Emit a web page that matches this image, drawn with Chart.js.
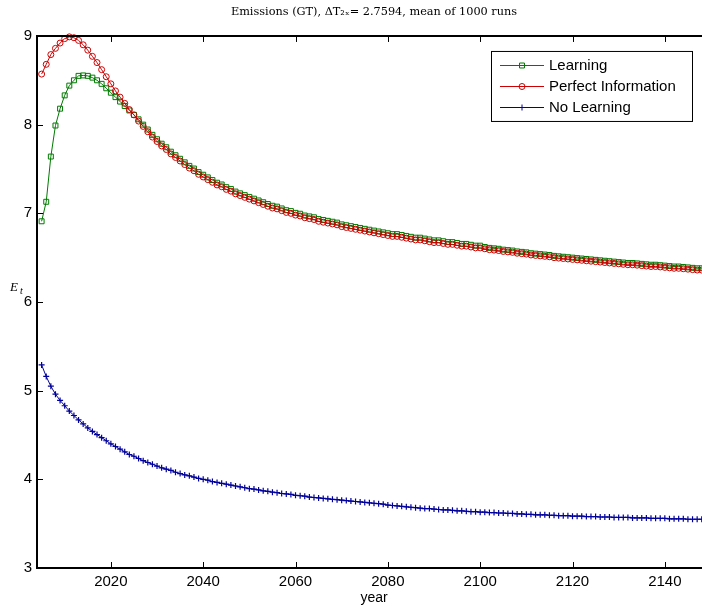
<!DOCTYPE html>
<html>
<head>
<meta charset="utf-8">
<script src="https://cdn.jsdelivr.net/npm/chart.js@4.4.0/dist/chart.umd.min.js"></script>
<style>
html, body { margin: 0; padding: 0; background: #fff; overflow: hidden; }
#emissions_wrap { position: relative; width: 740px; height: 607px; }
</style>
</head>
<body>
<div id="emissions_wrap"><canvas id="emissions_chart" width="740" height="607"></canvas></div>
<script>
// years of the runs (one point per year)
const years = [
    2005, 2006, 2007, 2008, 2009, 2010, 2011, 2012, 2013, 2014, 2015, 2016, 2017, 2018, 2019, 2020,
    2021, 2022, 2023, 2024, 2025, 2026, 2027, 2028, 2029, 2030, 2031, 2032, 2033, 2034, 2035, 2036,
    2037, 2038, 2039, 2040, 2041, 2042, 2043, 2044, 2045, 2046, 2047, 2048, 2049, 2050, 2051, 2052,
    2053, 2054, 2055, 2056, 2057, 2058, 2059, 2060, 2061, 2062, 2063, 2064, 2065, 2066, 2067, 2068,
    2069, 2070, 2071, 2072, 2073, 2074, 2075, 2076, 2077, 2078, 2079, 2080, 2081, 2082, 2083, 2084,
    2085, 2086, 2087, 2088, 2089, 2090, 2091, 2092, 2093, 2094, 2095, 2096, 2097, 2098, 2099, 2100,
    2101, 2102, 2103, 2104, 2105, 2106, 2107, 2108, 2109, 2110, 2111, 2112, 2113, 2114, 2115, 2116,
    2117, 2118, 2119, 2120, 2121, 2122, 2123, 2124, 2125, 2126, 2127, 2128, 2129, 2130, 2131, 2132,
    2133, 2134, 2135, 2136, 2137, 2138, 2139, 2140, 2141, 2142, 2143, 2144, 2145, 2146, 2147, 2148,
    2149, 2150
];

const learning = [
    6.91, 7.13, 7.64, 7.99, 8.18, 8.33, 8.44, 8.50, 8.55, 8.555, 8.55, 8.53, 8.50, 8.46, 8.41, 8.36,
    8.31, 8.26, 8.21, 8.16, 8.11, 8.06, 8.00, 7.945, 7.885, 7.835, 7.785, 7.745, 7.695, 7.655, 7.615, 7.575,
    7.535, 7.505, 7.465, 7.435, 7.405, 7.375, 7.345, 7.325, 7.295, 7.275, 7.245, 7.225, 7.205, 7.185, 7.165, 7.145,
    7.125, 7.105, 7.085, 7.075, 7.055, 7.035, 7.025, 7.005, 6.995, 6.975, 6.965, 6.955, 6.935, 6.925, 6.915, 6.905,
    6.895, 6.875, 6.865, 6.855, 6.845, 6.835, 6.825, 6.815, 6.805, 6.795, 6.785, 6.775, 6.765, 6.765, 6.755, 6.745,
    6.735, 6.725, 6.725, 6.715, 6.705, 6.695, 6.695, 6.685, 6.675, 6.675, 6.665, 6.655, 6.655, 6.645, 6.635, 6.635,
    6.62, 6.61, 6.605, 6.60, 6.59, 6.585, 6.58, 6.57, 6.565, 6.56, 6.55, 6.545, 6.54, 6.535, 6.53, 6.52,
    6.515, 6.51, 6.505, 6.50, 6.495, 6.49, 6.485, 6.48, 6.475, 6.47, 6.465, 6.46, 6.455, 6.45, 6.445, 6.44,
    6.44, 6.435, 6.43, 6.425, 6.42, 6.42, 6.415, 6.41, 6.405, 6.40, 6.40, 6.395, 6.39, 6.385, 6.38, 6.38,
    6.375, 6.37
];

const perfectInfo = [
    8.57, 8.68, 8.79, 8.86, 8.92, 8.97, 8.99, 8.98, 8.95, 8.90, 8.84, 8.77, 8.70, 8.62, 8.54, 8.46,
    8.38, 8.31, 8.24, 8.17, 8.11, 8.04, 7.98, 7.92, 7.86, 7.81, 7.76, 7.72, 7.67, 7.63, 7.59, 7.55,
    7.51, 7.48, 7.44, 7.41, 7.38, 7.35, 7.32, 7.30, 7.27, 7.25, 7.22, 7.20, 7.18, 7.16, 7.14, 7.12,
    7.10, 7.08, 7.06, 7.05, 7.03, 7.01, 7.00, 6.98, 6.97, 6.95, 6.94, 6.93, 6.91, 6.90, 6.89, 6.88,
    6.87, 6.85, 6.84, 6.83, 6.82, 6.81, 6.80, 6.79, 6.78, 6.77, 6.76, 6.75, 6.74, 6.74, 6.73, 6.72,
    6.71, 6.70, 6.70, 6.69, 6.68, 6.67, 6.67, 6.66, 6.65, 6.65, 6.64, 6.63, 6.63, 6.62, 6.61, 6.61,
    6.60, 6.59, 6.585, 6.58, 6.57, 6.565, 6.56, 6.55, 6.545, 6.54, 6.53, 6.525, 6.52, 6.515, 6.51, 6.50,
    6.495, 6.49, 6.485, 6.48, 6.475, 6.47, 6.465, 6.46, 6.455, 6.45, 6.445, 6.44, 6.435, 6.43, 6.425, 6.42,
    6.42, 6.415, 6.41, 6.405, 6.40, 6.40, 6.395, 6.39, 6.385, 6.38, 6.38, 6.375, 6.37, 6.365, 6.36, 6.36,
    6.355, 6.35
];

const noLearning = [
    5.29, 5.16, 5.05, 4.96, 4.89, 4.83, 4.77, 4.72, 4.67, 4.625, 4.58, 4.54, 4.505, 4.47, 4.435, 4.40,
    4.37, 4.34, 4.31, 4.28, 4.26, 4.235, 4.21, 4.19, 4.17, 4.15, 4.13, 4.115, 4.10, 4.08, 4.065, 4.05,
    4.04, 4.025, 4.01, 4.00, 3.99, 3.975, 3.965, 3.955, 3.945, 3.935, 3.925, 3.915, 3.905, 3.895, 3.89, 3.88,
    3.87, 3.865, 3.855, 3.85, 3.84, 3.835, 3.83, 3.82, 3.815, 3.81, 3.80, 3.795, 3.79, 3.785, 3.78, 3.775,
    3.77, 3.765, 3.76, 3.755, 3.75, 3.745, 3.74, 3.735, 3.73, 3.725, 3.72, 3.71, 3.705, 3.70, 3.695, 3.69,
    3.685, 3.68, 3.675, 3.67, 3.67, 3.665, 3.66, 3.655, 3.655, 3.65, 3.645, 3.645, 3.64, 3.635, 3.635, 3.63,
    3.63, 3.625, 3.625, 3.62, 3.62, 3.615, 3.615, 3.61, 3.61, 3.605, 3.605, 3.60, 3.60, 3.60, 3.595, 3.595,
    3.59, 3.59, 3.59, 3.585, 3.585, 3.585, 3.58, 3.58, 3.58, 3.575, 3.575, 3.575, 3.57, 3.57, 3.57, 3.57,
    3.565, 3.565, 3.565, 3.565, 3.56, 3.56, 3.56, 3.56, 3.555, 3.555, 3.555, 3.555, 3.55, 3.55, 3.55, 3.55,
    3.545, 3.545
];

const xTicks = [2020, 2040, 2060, 2080, 2100, 2120, 2140];
const yTicks = [3, 4, 5, 6, 7, 8, 9];
const seriesNames = ['Learning', 'Perfect Information', 'No Learning'];

Chart.defaults.font.family = "'Liberation Sans', Arial, sans-serif";
Chart.defaults.color = '#000';

function toPoints(values) {
    return years.map((yr, i) => ({ x: yr, y: values[i] }));
}

// inward tick marks + top frame line, like matlab's "box on"
const frameTicks = {
    id: 'frameTicks',
    afterDraw(chart) {
        const { ctx, chartArea: a, scales: { x, y } } = chart;
        ctx.save();
        ctx.strokeStyle = '#000';
        ctx.lineWidth = 2;
        ctx.beginPath();
        ctx.moveTo(a.left - 1, a.top);
        ctx.lineTo(a.right, a.top);
        ctx.moveTo(a.right, a.top);
        ctx.lineTo(a.right, a.bottom);
        ctx.stroke();
        ctx.lineWidth = 1;
        ctx.beginPath();
        x.ticks.forEach(t => {
            const px = Math.round(x.getPixelForValue(t.value)) + 0.5;
            ctx.moveTo(px, a.bottom);
            ctx.lineTo(px, a.bottom - 6);
            ctx.moveTo(px, a.top);
            ctx.lineTo(px, a.top + 6);
        });
        y.ticks.forEach(t => {
            const py = Math.round(y.getPixelForValue(t.value)) + 0.5;
            ctx.moveTo(a.left, py);
            ctx.lineTo(a.left + 6, py);
            ctx.moveTo(a.right, py);
            ctx.lineTo(a.right - 6, py);
        });
        ctx.stroke();

        // y label E_t (not rotated)
        ctx.fillStyle = '#000';
        ctx.textBaseline = 'alphabetic';
        ctx.font = "italic 13px 'Liberation Serif', serif";
        ctx.fillText('E', 10, 291);
        ctx.font = "italic 10px 'Liberation Serif', serif";
        ctx.fillText('t', 20, 294);
        ctx.restore();
    }
};

// boxed legend in the top right corner of the axes
const boxLegend = {
    id: 'boxLegend',
    afterDraw(chart) {
        const { ctx, chartArea: a } = chart;
        const w = 201, h = 70;
        const left = a.right - 19 - w, top = a.top + 15;
        ctx.save();
        ctx.fillStyle = '#fff';
        ctx.fillRect(left, top, w, h);
        ctx.strokeStyle = '#000';
        ctx.lineWidth = 1;
        ctx.strokeRect(left + 0.5, top + 0.5, w, h);
        const rows = [0, 1, 2];
        rows.forEach(r => {
            const ds = chart.data.datasets[r];
            const cy = Math.round(top + 14 + r * 21) + 0.5;
            ctx.strokeStyle = ds.borderColor;
            ctx.lineWidth = 1;
            ctx.beginPath();
            ctx.moveTo(left + 9, cy);
            ctx.lineTo(left + 53, cy);
            ctx.stroke();
            ctx.fillStyle = 'rgba(0,0,0,0)';
            Chart.helpers.drawPoint(ctx, {
                pointStyle: ds.pointStyle,
                radius: ds.pointRadius,
                borderWidth: 1,
                rotation: 0
            }, left + 31, cy);
            ctx.fillStyle = '#000';
            ctx.font = "15px 'Liberation Sans', Arial, sans-serif";
            ctx.textBaseline = 'middle';
            ctx.fillText(seriesNames[r], left + 58, cy);
        });
        ctx.restore();
    }
};

let emissions_chart = new Chart(document.getElementById('emissions_chart'), {
    type: 'line',
    data: {
        datasets: [
            {
                label: seriesNames[0],
                data: toPoints(learning),
                borderColor: '#007a00',
                borderWidth: 1,
                pointStyle: 'rect',
                pointRadius: 3.5,
                pointBorderWidth: 1,
                pointBackgroundColor: 'rgba(0,0,0,0)',
                order: 3,
                clip: false
            },
            {
                label: seriesNames[1],
                data: toPoints(perfectInfo),
                borderColor: '#cc0000',
                borderWidth: 1,
                pointStyle: 'circle',
                pointRadius: 3,
                pointBorderWidth: 1,
                pointBackgroundColor: 'rgba(0,0,0,0)',
                order: 2,
                clip: false
            },
            {
                label: seriesNames[2],
                data: toPoints(noLearning),
                borderColor: '#00009a',
                borderWidth: 1,
                pointStyle: 'cross',
                pointRadius: 3,
                pointBorderWidth: 1.2,
                pointBackgroundColor: 'rgba(0,0,0,0)',
                order: 1,
                clip: false
            }
        ]
    },
    options: {
        responsive: false,
        devicePixelRatio: 1,
        animation: false,
        layout: { padding: { left: 0, right: 29, top: 0, bottom: 0 } },
        plugins: {
            legend: { display: false },
            tooltip: { enabled: false },
            title: {
                display: true,
                fullSize: false, // centre over the axes, not the canvas
                text: 'Emissions (GT), \u0394T\u2082\u2093= 2.7594, mean of 1000 runs',
                font: { family: "'DejaVu Serif', serif", size: 11.3, weight: 'normal' },
                color: '#000',
                padding: { top: 5, bottom: 17.4 }
            }
        },
        scales: {
            x: {
                type: 'linear',
                min: 2004,
                max: 2150,
                afterBuildTicks: (s) => { s.ticks = xTicks.map(v => ({ value: v })); },
                afterFit: (s) => { s.height = 39; },
                grid: { display: false, drawTicks: false },
                border: { display: true, color: '#000', width: 2 },
                ticks: {
                    font: { size: 15 },
                    padding: 5,
                    maxRotation: 0,
                    autoSkip: false,
                    callback: (v) => String(v)
                },
                title: { display: true, text: 'year', font: { size: 14 }, padding: { top: 0, bottom: 0 } }
            },
            y: {
                min: 3,
                max: 9,
                afterBuildTicks: (s) => { s.ticks = yTicks.map(v => ({ value: v })); },
                afterFit: (s) => { s.width = 37; },
                grid: { display: false, drawTicks: false },
                border: { display: true, color: '#000', width: 2 },
                ticks: { font: { size: 15 }, padding: 5, callback: (v) => String(v) }
            }
        }
    },
    plugins: [frameTicks, boxLegend]
});
</script>
</body>
</html>
